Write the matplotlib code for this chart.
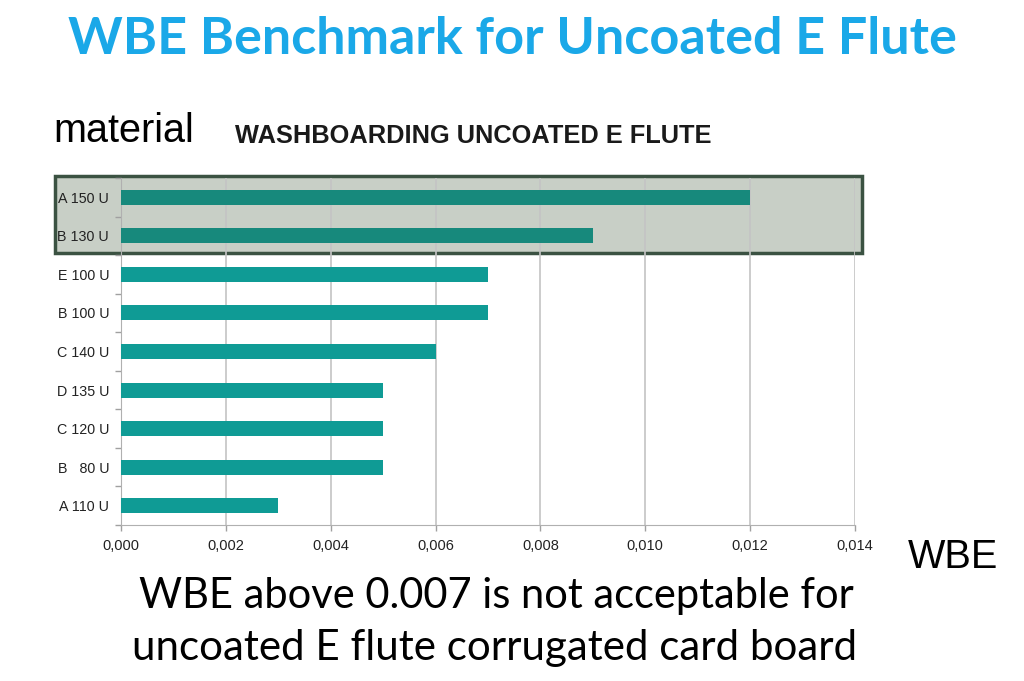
import matplotlib
matplotlib.use("Agg")
import matplotlib.pyplot as plt
from matplotlib.patches import Rectangle
from matplotlib.ticker import FixedLocator, FuncFormatter

materials = ["A 150 U", "B 130 U", "E 100 U", "B 100 U", "C 140 U",
             "D 135 U", "C 120 U", "B   80 U", "A 110 U"]
wbe = [0.012, 0.009, 0.007, 0.007, 0.006, 0.005, 0.005, 0.005, 0.003]
highlighted = [True, True, False, False, False, False, False, False, False]
xticks = [0.000, 0.002, 0.004, 0.006, 0.008, 0.010, 0.012, 0.014]

TEAL = "#0f9b95"
TEAL_DARK = "#17897c"

fig = plt.figure(figsize=(10.24, 6.81), dpi=100)
fig.patch.set_facecolor("white")

# highlight box behind the top two bars
box = Rectangle((55/1024, 1-253/681), (862-55)/1024, (253-176)/681,
                transform=fig.transFigure, facecolor="#c8cfc6",
                edgecolor="#3b5242", linewidth=2.5, zorder=-5)
fig.patches.append(box)

ax = fig.add_axes([121/1024, 1-525/681, 734/1024, 347/681])
ax.set_zorder(1)
ax.set_facecolor("none")
ax.patch.set_alpha(0)
ypos = list(range(len(materials)))
colors = [TEAL_DARK if h else TEAL for h in highlighted]
ax.barh(ypos, wbe, height=0.39, color=colors, zorder=3)
ax.set_ylim(len(materials)-0.5, -0.5)
ax.set_xlim(0, 0.014)

ax.xaxis.set_major_locator(FixedLocator(xticks))
ax.xaxis.set_major_formatter(FuncFormatter(lambda v, p: f"{v:.3f}".replace(".", ",")))
ax.set_yticks(ypos)
ax.set_yticklabels(materials)
ax.set_yticks([i + 0.5 for i in range(-1, len(materials))], minor=True)
ax.tick_params(axis="y", which="major", length=0, pad=8.6, labelsize=10.3,
               labelfontfamily="Liberation Sans", labelcolor="#222222")
ax.tick_params(axis="y", which="minor", length=4, color="#a0a0a0", width=1)
ax.tick_params(axis="x", which="major", length=4, color="#a0a0a0", width=1,
               labelsize=10.5, labelfontfamily="Liberation Sans", pad=6, labelcolor="#222222")

ax.grid(axis="x", color="#c4c4c4", linewidth=1.2, zorder=1)
ax.set_axisbelow(True)
for s in ["top", "right"]:
    ax.spines[s].set_visible(False)
ax.spines["left"].set_color("#b0b0b0")
ax.spines["bottom"].set_color("#b0b0b0")

fig.text(0.5, 1-40/681, "WBE Benchmark for Uncoated E Flute", ha="center", va="center",
         fontsize=37.5, fontweight="bold", color="#1aa8e8", family="Lato")
fig.text(53/1024, 1-131/681, "material", ha="left", va="center",
         fontsize=28.5, color="black", family="Liberation Sans")
fig.text(235/1024, 1-136/681, "WASHBOARDING UNCOATED E FLUTE", ha="left", va="center",
         fontsize=18.3, fontweight="bold", color="#1a1a1a", family="Liberation Sans")
fig.text(908/1024, 1-557/681, "WBE", ha="left", va="center",
         fontsize=28.5, color="black", family="Liberation Sans")
fig.text(496/1024, 1-596/681, "WBE above 0.007 is not acceptable for", ha="center", va="center",
         fontsize=30, color="black", family="Lato")
fig.text(495/1024, 1-648/681, "uncoated E flute corrugated card board", ha="center", va="center",
         fontsize=30.3, color="black", family="Lato")

fig.savefig("out.png", dpi=100)
